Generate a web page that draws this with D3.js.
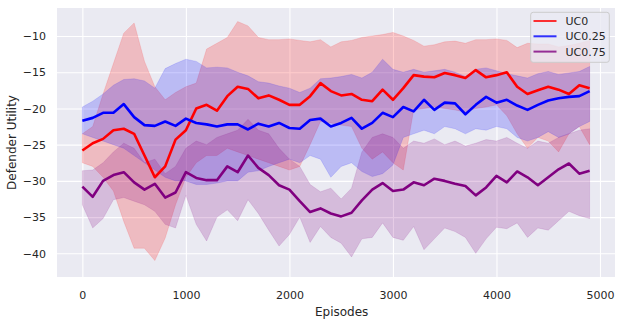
<!DOCTYPE html>
<html>
<head>
<meta charset="utf-8">
<script src="https://cdn.jsdelivr.net/npm/d3@7"></script>
<style>
  html, body { margin: 0; padding: 0; background: #ffffff; }
  svg { display: block; }
  text { font-family: "DejaVu Sans", sans-serif; fill: #262626; }
</style>
</head>
<body>
<svg id="chart" width="622" height="322"></svg>
<script>
const episodes = [0,100,200,300,400,500,600,700,800,900,
  1000,1100,1200,1300,1400,1500,1600,1700,1800,1900,
  2000,2100,2200,2300,2400,2500,2600,2700,2800,2900,
  3000,3100,3200,3300,3400,3500,3600,3700,3800,3900,
  4000,4100,4200,4300,4400,4500,4600,4700,4800,4900];

const uc0Mean = [-25.8,-24.8,-24.2,-23.0,-22.8,-23.5,-26.5,-29.5,-28.0,-24.3,
  -23.0,-20.0,-19.5,-20.3,-18.3,-17.0,-17.3,-18.6,-18.2,-18.8,
  -19.5,-19.5,-18.3,-16.5,-17.6,-18.2,-18.0,-18.8,-19.0,-17.4,
  -18.8,-17.2,-15.4,-15.6,-15.7,-15.1,-15.4,-15.8,-14.7,-15.7,
  -15.4,-15.0,-17.0,-18.0,-17.5,-17.0,-17.4,-18.0,-16.8,-17.2];
const uc0Upper = [-23.5,-22.5,-18.0,-13.8,-9.6,-8.2,-13.5,-17.0,-18.8,-17.8,
  -17.0,-16.5,-11.8,-11.0,-10.2,-8.0,-8.6,-10.2,-10.5,-10.5,
  -10.4,-10.6,-10.8,-10.5,-11.5,-10.8,-10.6,-10.2,-10.0,-9.8,
  -9.5,-10.0,-10.6,-11.4,-11.2,-10.8,-10.7,-11.0,-10.5,-10.5,
  -10.4,-10.6,-11.6,-11.0,-11.1,-11.1,-11.5,-11.3,-11.0,-10.6];
const uc0Lower = [-27.5,-28.0,-29.5,-31.4,-35.6,-39.3,-39.3,-41.0,-37.9,-33.3,
  -29.5,-27.5,-26.5,-26.5,-25.5,-26.0,-26.5,-27.0,-27.5,-28.0,
  -28.5,-28.0,-25.0,-21.8,-22.0,-22.3,-22.5,-25.5,-27.0,-26.0,
  -27.5,-28.5,-20.2,-20.0,-19.8,-20.0,-20.2,-20.5,-20.0,-19.8,
  -19.5,-21.0,-23.5,-25.5,-24.0,-24.5,-26.0,-23.5,-22.5,-25.0];

const uc025Mean = [-21.7,-21.3,-20.6,-20.6,-19.4,-21.2,-22.3,-22.4,-21.8,-22.4,
  -21.4,-22.0,-22.2,-22.5,-22.2,-22.2,-22.9,-22.1,-22.5,-22.0,
  -22.7,-22.8,-21.6,-21.4,-22.5,-22.0,-21.3,-22.8,-22.0,-20.6,
  -21.2,-19.8,-20.4,-18.8,-20.2,-19.2,-19.3,-20.8,-19.5,-18.4,
  -19.2,-18.8,-19.6,-20.2,-19.5,-18.9,-18.6,-18.4,-18.3,-17.6];
const uc025Upper = [-19.8,-19.0,-18.0,-16.8,-16.0,-15.9,-16.2,-17.2,-14.5,-13.8,
  -13.2,-13.5,-14.4,-14.3,-14.4,-15.0,-15.5,-16.3,-16.5,-16.9,
  -17.2,-17.8,-17.2,-15.9,-15.8,-15.6,-15.3,-15.8,-15.0,-13.2,
  -14.6,-15.0,-14.6,-15.0,-14.8,-14.6,-15.0,-15.6,-14.6,-14.4,
  -14.8,-15.2,-15.5,-15.8,-15.2,-14.9,-15.3,-15.1,-14.9,-14.2];
const uc025Lower = [-23.5,-24.0,-24.5,-25.0,-25.5,-26.5,-27.5,-28.5,-29.5,-30.0,
  -30.0,-30.5,-30.5,-30.3,-30.0,-30.0,-28.8,-28.6,-28.0,-27.5,
  -27.0,-27.5,-26.5,-27.0,-29.5,-28.0,-27.5,-28.7,-29.4,-29.0,
  -27.8,-24.0,-23.5,-23.0,-23.5,-22.5,-22.8,-23.5,-22.8,-23.0,
  -22.5,-22.8,-24.0,-24.5,-24.0,-23.2,-24.0,-23.5,-22.5,-21.8];

const uc075Mean = [-30.8,-32.2,-30.0,-29.2,-28.8,-30.2,-31.2,-30.4,-32.3,-31.6,
  -28.8,-29.6,-29.9,-29.9,-28.0,-28.8,-26.5,-28.2,-29.2,-30.6,
  -31.2,-32.8,-34.3,-33.8,-34.5,-34.9,-34.4,-32.7,-31.2,-30.3,
  -31.4,-31.2,-30.2,-30.6,-29.7,-30.0,-30.4,-30.7,-32.0,-30.9,
  -29.3,-30.2,-28.7,-29.5,-30.6,-29.5,-28.4,-27.6,-29.0,-28.6];
const uc075Upper = [-28.6,-28.5,-27.5,-26.0,-24.8,-25.5,-27.5,-27.0,-29.0,-28.0,
  -25.5,-24.5,-25.0,-24.0,-23.5,-23.0,-21.5,-23.0,-23.5,-25.5,
  -27.0,-28.0,-30.5,-31.5,-31.0,-32.5,-31.0,-26.0,-24.0,-23.5,
  -24.0,-25.5,-24.5,-24.8,-24.2,-25.0,-24.5,-25.2,-24.8,-24.3,
  -24.5,-24.0,-24.8,-25.5,-24.5,-24.8,-24.0,-23.5,-23.0,-22.8];
const uc075Lower = [-33.3,-36.5,-35.2,-32.6,-32.3,-32.8,-33.3,-34.2,-36.0,-36.5,
  -32.0,-36.0,-38.3,-35.0,-34.0,-35.5,-32.6,-34.5,-36.8,-39.0,
  -37.4,-35.0,-38.5,-36.3,-37.8,-38.6,-40.5,-38.0,-37.8,-35.8,
  -37.8,-38.2,-36.3,-39.5,-38.0,-36.5,-37.0,-37.8,-40.0,-38.0,
  -36.4,-36.6,-35.8,-37.8,-36.5,-36.8,-35.5,-34.2,-34.8,-35.2];

const seriesNames = ["UC0", "UC0.25", "UC0.75"];
const seriesColors = ["#ff0000", "#0000ff", "#800080"];
const xTicks = [0, 1000, 2000, 3000, 4000, 5000];
const yTicks = [-40, -35, -30, -25, -20, -15, -10];
const xLabel = "Episodes";
const yLabel = "Defender Utility";

const series = [
  {name: seriesNames[0], color: seriesColors[0], mean: uc0Mean, lo: uc0Lower, hi: uc0Upper},
  {name: seriesNames[1], color: seriesColors[1], mean: uc025Mean, lo: uc025Lower, hi: uc025Upper},
  {name: seriesNames[2], color: seriesColors[2], mean: uc075Mean, lo: uc075Lower, hi: uc075Upper}
];

const svg = d3.select("#chart");
const plot = {left: 57, right: 615, top: 8, bottom: 277};

const x = d3.scaleLinear().domain([-245, 5145]).range([plot.left, plot.right]);
const y = d3.scaleLinear().domain([-43.27, -6.13]).range([plot.bottom, plot.top]);

svg.append("rect").attr("x", plot.left).attr("y", plot.top)
  .attr("width", plot.right - plot.left).attr("height", plot.bottom - plot.top)
  .attr("fill", "#EAEAF2");

const minus = v => String(v).replace("-", "\u2212");

const gx = svg.append("g").attr("transform", `translate(0,${plot.bottom})`)
  .call(d3.axisBottom(x).tickValues(xTicks).tickSize(-(plot.bottom - plot.top)).tickPadding(11).tickFormat(d => minus(d)));
const gy = svg.append("g").attr("transform", `translate(${plot.left},0)`)
  .call(d3.axisLeft(y).tickValues(yTicks).tickSize(-(plot.right - plot.left)).tickPadding(11).tickFormat(d => minus(d)));
[gx, gy].forEach(g => {
  g.select(".domain").remove();
  g.selectAll(".tick line").attr("stroke", "#ffffff").attr("stroke-width", 1.1);
  g.selectAll(".tick text").attr("font-size", 11).attr("fill", "#262626")
    .attr("font-family", "DejaVu Sans, sans-serif");
});
gy.selectAll(".tick text").attr("x", 46 - plot.left).attr("dy", "0.34em");
gx.selectAll(".tick text").attr("y", 14.5).attr("dy", "0.71em");

svg.append("clipPath").attr("id", "clip").append("rect")
  .attr("x", plot.left).attr("y", plot.top)
  .attr("width", plot.right - plot.left).attr("height", plot.bottom - plot.top);

const layer = svg.append("g").attr("clip-path", "url(#clip)");

series.forEach(s => {
  const area = d3.area()
    .x((d, i) => x(episodes[i]))
    .y0((d, i) => y(s.lo[i]))
    .y1((d, i) => y(s.hi[i]));
  layer.append("path").datum(s.mean).attr("d", area)
    .attr("fill", s.color).attr("fill-opacity", 0.2)
    .attr("stroke", s.color).attr("stroke-opacity", 0.12).attr("stroke-width", 1);
});

series.forEach(s => {
  const line = d3.line().x((d, i) => x(episodes[i])).y(d => y(d));
  layer.append("path").datum(s.mean).attr("d", line)
    .attr("fill", "none").attr("stroke", s.color).attr("stroke-width", 2.6)
    .attr("stroke-linejoin", "round");
});

svg.append("text").attr("x", (x(0) + x(5000)) / 2 + 0.5).attr("y", 315.5)
  .attr("text-anchor", "middle").attr("font-size", 12).text(xLabel);
svg.append("text").attr("transform", `translate(15.8,${(plot.top + plot.bottom) / 2}) rotate(-90)`)
  .attr("text-anchor", "middle").attr("font-size", 12).text(yLabel);

const lg = svg.append("g");
lg.append("rect").attr("x", 530.7).attr("y", 12.3).attr("width", 78.6).attr("height", 50)
  .attr("rx", 2.5).attr("fill", "#EAEAF2").attr("fill-opacity", 0.8)
  .attr("stroke", "#cccccc").attr("stroke-width", 1);
series.forEach((s, i) => {
  const yy = 21 + i * 15.3;
  lg.append("line").attr("x1", 533.5).attr("x2", 556.5).attr("y1", yy).attr("y2", yy)
    .attr("stroke", s.color).attr("stroke-opacity", 0.8).attr("stroke-width", 2);
  lg.append("text").attr("x", 565.5).attr("y", yy + 4).attr("font-size", 11).text(s.name);
});
</script>
</body>
</html>
